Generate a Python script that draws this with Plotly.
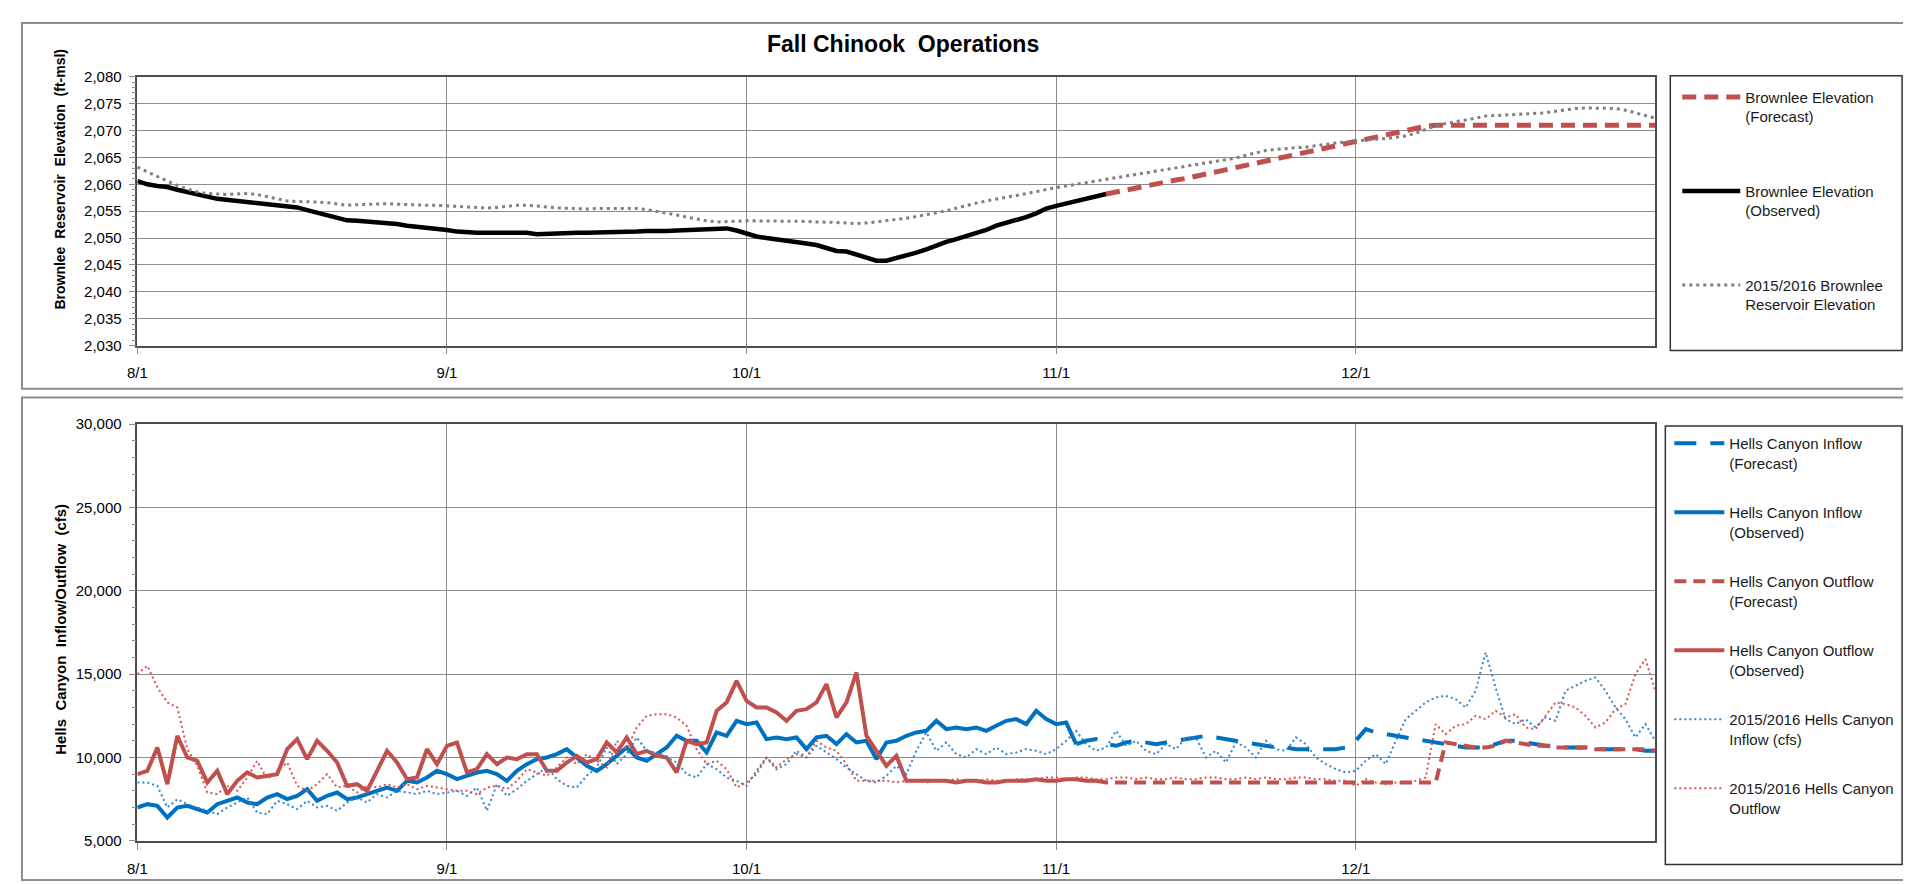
import pandas as pd
import plotly.graph_objects as go

# ---------------- data ----------------
START = "2016-08-01"
N_DAYS = 153
ELEV_FCST_START = "2016-11-06"
INFLOW_FCST_START = "2016-11-03"
OUTFLOW_FCST_START = "2016-11-05"

tick_dates = ["2016-08-01", "2016-09-01", "2016-10-01", "2016-11-01", "2016-12-01"]
tick_labels = ["8/1", "9/1", "10/1", "11/1", "12/1"]

elev_obs = [
    2060.6, 2060.0, 2059.7, 2059.5, 2059.0, 2058.5, 2058.1, 2057.7, 2057.3, 2057.1,
    2057.0, 2056.9, 2056.7, 2056.5, 2056.2, 2056.0, 2055.7, 2055.2, 2054.7, 2054.2,
    2053.7, 2053.3, 2053.2, 2053.1, 2053.0, 2052.9, 2052.6, 2052.3, 2052.1, 2052.1,
    2051.9, 2051.5, 2051.2, 2051.0, 2051.0, 2051.0, 2051.0, 2051.0, 2051.2, 2051.0,
    2050.7, 2050.8, 2051.0, 2051.0, 2051.0, 2051.0, 2051.0, 2051.0, 2051.1, 2051.2,
    2051.2, 2051.3, 2051.2, 2051.3, 2051.4, 2051.5, 2051.6, 2051.8, 2051.9, 2051.8,
    2051.4, 2050.8, 2050.3, 2050.0, 2049.8, 2049.6, 2049.4, 2049.0, 2048.7, 2048.2,
    2047.6, 2047.5, 2047.0, 2046.4, 2045.8, 2045.8, 2046.3, 2046.6, 2047.3, 2047.9,
    2048.7, 2049.3, 2049.8, 2050.3, 2050.9, 2051.5, 2052.3, 2052.8, 2053.2, 2053.9,
    2054.6, 2055.5, 2056.0, 2056.4, 2056.8, 2057.3, 2057.7, 2058.2,
]

elev_fcst = [
    2058.2, 2058.6, 2059.0, 2059.3, 2059.7, 2060.0, 2060.4, 2060.8, 2061.1, 2061.5,
    2061.9, 2062.3, 2062.7, 2063.1, 2063.5, 2063.9, 2064.3, 2064.7, 2065.1, 2065.5,
    2065.9, 2066.3, 2066.7, 2067.1, 2067.5, 2067.9, 2068.3, 2068.8, 2069.3, 2069.7,
    2070.1, 2070.5, 2070.8, 2071.0, 2071.0, 2071.0, 2071.0, 2071.0, 2071.0, 2071.0,
    2071.0, 2071.0, 2071.0, 2071.0, 2071.0, 2071.0, 2071.0, 2071.0, 2071.0, 2071.0,
    2071.0, 2071.0, 2071.0, 2071.0, 2071.0, 2071.0,
]

elev_prev = [
    2063.2, 2062.3, 2061.4, 2060.6, 2059.8, 2059.1, 2058.6, 2058.3, 2058.2, 2058.1,
    2058.2, 2058.3, 2058.1, 2057.7, 2057.2, 2056.9, 2056.8, 2056.8, 2056.7, 2056.6,
    2056.3, 2056.1, 2056.2, 2056.3, 2056.4, 2056.4, 2056.3, 2056.2, 2056.1, 2056.1,
    2056.1, 2056.0, 2055.8, 2055.7, 2055.6, 2055.6, 2055.7, 2055.9, 2056.1, 2056.1,
    2056.0, 2055.8, 2055.6, 2055.5, 2055.4, 2055.4, 2055.5, 2055.5, 2055.6, 2055.6,
    2055.5, 2055.3, 2055.0, 2054.7, 2054.3, 2053.9, 2053.5, 2053.2, 2053.0, 2053.1,
    2053.2, 2053.2, 2053.2, 2053.2, 2053.2, 2053.2, 2053.1, 2053.1, 2053.0, 2053.0,
    2052.9, 2052.8, 2052.7, 2052.8, 2053.0, 2053.2, 2053.5, 2053.7, 2054.0, 2054.3,
    2054.7, 2055.1, 2055.6, 2056.1, 2056.5, 2056.9, 2057.3, 2057.6, 2057.9, 2058.3,
    2058.7, 2059.1, 2059.4, 2059.7, 2060.0, 2060.3, 2060.6, 2060.9, 2061.2, 2061.5,
    2061.8, 2062.1, 2062.4, 2062.7, 2063.0, 2063.3, 2063.6, 2063.9, 2064.2, 2064.5,
    2064.9, 2065.4, 2065.9, 2066.3, 2066.5, 2066.7, 2066.8, 2066.9, 2067.2, 2067.5,
    2067.7, 2067.9, 2068.1, 2068.3, 2068.4, 2068.5, 2068.7, 2069.0, 2069.5, 2070.2,
    2070.9, 2071.3, 2071.6, 2071.9, 2072.3, 2072.7, 2072.8, 2072.9, 2073.0, 2073.1,
    2073.2, 2073.3, 2073.6, 2073.9, 2074.1, 2074.2, 2074.2, 2074.2, 2074.1, 2073.8,
    2073.3, 2072.8, 2072.3,
]

inflow_obs = [
    7000, 7200, 7100, 6400, 7000, 7100, 6900, 6700, 7200, 7400,
    7600, 7300, 7200, 7600, 7800, 7500, 7700, 8100, 7400, 7700,
    7900, 7500, 7600, 7800, 8000, 8200, 8000, 8600, 8500, 8800,
    9200, 9000, 8700, 8900, 9100, 9200, 9000, 8600, 9200, 9600,
    9900, 10000, 10200, 10500, 10000, 9500, 9200, 9600, 10100, 10600,
    10000, 9800, 10200, 10600, 11300, 11000, 11000, 10300, 11500, 11300,
    12200, 12000, 12100, 11100, 11200, 11100, 11200, 10500, 11200, 11300,
    10800, 11400, 10900, 11000, 9900, 10900, 11000, 11300, 11500, 11600,
    12200, 11700, 11800, 11700, 11800, 11600, 11900, 12200, 12300, 12000,
    12800, 12300, 12000, 12100, 10800,
]

inflow_fcst = [
    10800, 11000, 11100, 10800, 10700, 10900, 11000, 10900, 10800, 10900,
    11000, 11100, 11200, 11300, 11200, 11100, 11000, 10900, 10800, 10700,
    10600, 10600, 10500, 10500, 10400, 10500, 10500, 10600, 11000, 11700,
    11500, 11400, 11300, 11200, 11100, 11000, 10900, 10800, 10700, 10600,
    10600, 10600, 10800, 11000, 11000, 10900, 10800, 10700, 10700, 10600,
    10600, 10600, 10500, 10500, 10500, 10500, 10500, 10400, 10400,
]

outflow_obs = [
    9000, 9200, 10600, 8400, 11300, 10000, 9800, 8500, 9200, 7800,
    8600, 9100, 8800, 8900, 9000, 10500, 11100, 9900, 11000, 10400,
    9700, 8300, 8400, 8000, 9200, 10400, 9700, 8700, 8800, 10500,
    9600, 10700, 10900, 9100, 9300, 10200, 9600, 10000, 9900, 10200,
    10200, 9200, 9200, 9700, 10100, 9700, 9900, 10900, 10300, 11200,
    10200, 10400, 10100, 10000, 9100, 11000, 10800, 10900, 12800, 13300,
    14600, 13400, 13000, 13000, 12700, 12200, 12800, 12900, 13300, 14400,
    12400, 13300, 15100, 11300, 10400, 9500, 10100, 8600, 8600, 8600,
    8600, 8600, 8500, 8600, 8600, 8500, 8500, 8600, 8600, 8600,
    8700, 8600, 8600, 8700, 8700, 8600, 8600,
]

outflow_fcst = [
    8600, 8500, 8500, 8500, 8500, 8500, 8500, 8500, 8500, 8500,
    8500, 8500, 8500, 8500, 8500, 8500, 8500, 8500, 8500, 8500,
    8500, 8500, 8500, 8500, 8500, 8500, 8500, 8500, 8500, 8500,
    8500, 8500, 8500, 8500, 8500,
    10900, 10800, 10700, 10600, 10600, 10700, 11000, 10900, 10800, 10700,
    10700, 10600, 10600, 10600, 10600, 10500, 10500, 10500, 10500, 10500,
    10500, 10400,
]

prev_inflow = [
    8500, 8500, 8300, 7000, 7500, 7200, 7000, 6800, 6600, 7000,
    7300, 7600, 6700, 6600, 7400, 7200, 6900, 7400, 7000, 7100,
    6800, 7300, 7600, 7300, 7800, 7600, 8000, 7900, 7800, 8000,
    7800, 7900, 8000, 7700, 8200, 6800, 8400, 7700, 8100, 8600,
    9000, 9400, 8700, 8300, 8200, 8900, 9400, 10600, 9600, 10200,
    11200, 10400, 10300, 10000, 9700, 9000, 8800, 9600, 9300, 8800,
    8600, 8300, 9200, 10000, 9300, 9600, 10400, 10000, 10700, 10300,
    9900, 9400, 9000, 8600, 8500, 8900, 9500, 9000, 10400, 11500,
    10400, 10900, 10200, 10000, 10500, 10200, 10600, 10200, 10300, 10500,
    10400, 10200, 10500, 11000, 11600, 10800, 10400, 10600, 11600, 10700,
    11000, 10400, 10200, 10800, 10500, 11200, 11200, 10000, 10400, 9700,
    10900, 10600, 10000, 11000, 10500, 10400, 11200, 10800, 10000, 9600,
    9300, 9100, 9200, 9800, 10200, 9600, 11000, 12300, 12800, 13300,
    13600, 13700, 13500, 13000, 14000, 16300, 14200, 12300, 12000, 12300,
    11800, 12400, 12200, 14000, 14300, 14600, 14800, 14000, 13000, 12300,
    11200, 12000, 11000,
]

prev_outflow = [
    15000, 15500, 14200, 13300, 13000, 10500, 9500, 7900, 7800, 8300,
    8000, 8800, 9800, 8700, 9200, 9700, 8300, 8000, 8400, 9000,
    8200, 8300, 7900, 8300, 8200, 8400, 8200, 8400, 8100, 8300,
    8200, 8100, 8000, 8000, 7800, 8200, 8300, 8100, 8600, 9300,
    9100, 8900, 9400, 10000, 9600, 10200, 9800, 9400, 11000, 10500,
    11800, 12500, 12600, 12600, 12400, 11900, 10500, 9600, 9800, 9300,
    8200, 8500, 9000, 10000, 9400, 9900, 10200, 10000, 11000, 10600,
    10400, 9600, 8600, 8600, 8600, 8600, 8500, 8600, 8600, 8500,
    8600, 8600, 8700, 8600, 8600, 8700, 8600, 8600, 8700, 8700,
    8700, 8800, 8800, 8700, 8800, 8800, 8700, 8700, 8800, 8800,
    8700, 8800, 8700, 8700, 8800, 8700, 8700, 8800, 8800, 8700,
    8700, 8800, 8700, 8800, 8700, 8700, 8800, 8800, 8700, 8700,
    8600, 8600, 8300, 8700, 8500, 8400, 8500, 8500, 8600, 8800,
    12000, 11400, 11900, 12000, 12500, 12300, 12800, 12400, 12600, 11800,
    11700, 12500, 13300, 13200, 13000, 12500, 11800, 12100, 12900, 13200,
    15000, 15900, 14000,
]

assert len(elev_prev) == N_DAYS and len(prev_inflow) == N_DAYS and len(prev_outflow) == N_DAYS

dates = pd.date_range(START, periods=N_DAYS, freq="D")
d_elev_obs = dates[:len(elev_obs)]
d_elev_fcst = pd.date_range(ELEV_FCST_START, periods=len(elev_fcst), freq="D")
d_in_obs = dates[:len(inflow_obs)]
d_in_fcst = pd.date_range(INFLOW_FCST_START, periods=len(inflow_fcst), freq="D")
d_out_obs = dates[:len(outflow_obs)]
d_out_fcst = pd.date_range(OUTFLOW_FCST_START, periods=len(outflow_fcst), freq="D")

# ---------------- styling ----------------
W, H = 1911, 884
def px(x):
    return x / W
def py(y):
    return 1 - y / H

FONT = "Liberation Sans Narrow, Liberation Sans, Arial, sans-serif"
TICK_FONT = "Liberation Sans, Arial, sans-serif"
BOLD_FONT = "Liberation Sans, Arial, sans-serif"
RED = "#C0504D"
BLUE = "#0070C0"
GRID = "#8C8C8C"
AXLINE = "#4D4D4D"

fig = go.Figure()

# top chart traces
fig.add_trace(go.Scatter(x=d_elev_fcst, y=elev_fcst, mode="lines",
                         name="Brownlee Elevation<br>(Forecast)",
                         line=dict(color=RED, width=5, dash="14px,8px"),
                         legend="legend", legendgroup="a1", xaxis="x", yaxis="y"))
fig.add_trace(go.Scatter(x=d_elev_obs, y=elev_obs, mode="lines",
                         name="Brownlee Elevation<br>(Observed)",
                         line=dict(color="#000000", width=4.5),
                         legend="legend", legendgroup="a2", xaxis="x", yaxis="y"))
fig.add_trace(go.Scatter(x=dates, y=elev_prev, mode="lines",
                         name="2015/2016 Brownlee<br>Reservoir Elevation",
                         line=dict(color="#7F7F7F", width=3, dash="3px,4px"),
                         legend="legend", legendgroup="a3", xaxis="x", yaxis="y"))

# bottom chart traces
fig.add_trace(go.Scatter(x=d_in_fcst, y=inflow_fcst, mode="lines",
                         name="Hells Canyon Inflow<br>(Forecast)",
                         line=dict(color=BLUE, width=4, dash="22px,14px"),
                         legend="legend2", legendgroup="b1", xaxis="x2", yaxis="y2"))
fig.add_trace(go.Scatter(x=d_in_obs, y=inflow_obs, mode="lines",
                         name="Hells Canyon Inflow<br>(Observed)",
                         line=dict(color=BLUE, width=4),
                         legend="legend2", legendgroup="b2", xaxis="x2", yaxis="y2"))
fig.add_trace(go.Scatter(x=d_out_fcst, y=outflow_fcst, mode="lines",
                         name="Hells Canyon Outflow<br>(Forecast)",
                         line=dict(color=RED, width=4, dash="12px,7px"),
                         legend="legend2", legendgroup="b3", xaxis="x2", yaxis="y2"))
fig.add_trace(go.Scatter(x=d_out_obs, y=outflow_obs, mode="lines",
                         name="Hells Canyon Outflow<br>(Observed)",
                         line=dict(color=RED, width=4),
                         legend="legend2", legendgroup="b4", xaxis="x2", yaxis="y2"))
fig.add_trace(go.Scatter(x=dates, y=prev_inflow, mode="lines",
                         name="2015/2016 Hells Canyon<br>Inflow (cfs)",
                         line=dict(color="#2E86D4", width=2, dash="2px,3px"),
                         legend="legend2", legendgroup="b5", xaxis="x2", yaxis="y2"))
fig.add_trace(go.Scatter(x=dates, y=prev_outflow, mode="lines",
                         name="2015/2016 Hells Canyon<br>Outflow",
                         line=dict(color="#D9534F", width=2, dash="2px,3px"),
                         legend="legend2", legendgroup="b6", xaxis="x2", yaxis="y2"))

xdom = [px(120), px(1646)]
xrange_ = [START, "2016-12-31"]

def xaxis_cfg(anchor):
    return dict(domain=xdom, anchor=anchor, type="date", range=xrange_,
                tickvals=tick_dates, ticktext=tick_labels,
                showgrid=True, gridcolor=GRID, gridwidth=1,
                ticks="outside", ticklen=7, tickcolor=GRID,
                showline=True, linecolor=AXLINE, linewidth=1.5, mirror=True,
                tickfont=dict(family=TICK_FONT, size=15, color="#000"),
                ticklabelstandoff=6, zeroline=False)

def yaxis_cfg(anchor, dom, rng, dtick, minor):
    return dict(domain=dom, anchor=anchor, range=rng, dtick=dtick, tick0=rng[0],
                tickformat=",d", showgrid=True, gridcolor=GRID, gridwidth=1,
                ticks="outside", ticklen=7, tickcolor=GRID,
                minor=dict(dtick=minor, ticks="outside", ticklen=4, tickcolor=GRID,
                           showgrid=False),
                showline=True, linecolor=AXLINE, linewidth=1.5, mirror=True,
                tickfont=dict(family=TICK_FONT, size=15, color="#000"),
                ticklabelstandoff=4, zeroline=False)

legend_common = dict(xanchor="left", yanchor="top", bgcolor="rgba(0,0,0,0)",
                     borderwidth=0, valign="top",
                     font=dict(family=FONT, size=15, color="#1a1a1a"),
                     itemclick=False, itemdoubleclick=False)

fig.update_layout(
    width=W, height=H,
    margin=dict(l=0, r=0, t=0, b=0),
    paper_bgcolor="white", plot_bgcolor="white",
    xaxis=xaxis_cfg("y"),
    yaxis=yaxis_cfg("x", [py(335), py(61)], [2030, 2080], 5, 1),
    xaxis2=xaxis_cfg("y2"),
    yaxis2=yaxis_cfg("x2", [py(840), py(415)], [5000, 30000], 5000, 1000),
    legend=dict(x=px(1668), y=py(65), tracegroupgap=52, itemwidth=58, **legend_common),
    legend2=dict(x=px(1660), y=py(418), tracegroupgap=27, itemwidth=50, **legend_common),
    showlegend=True,
)

shape_line = dict(color="#8C8C8C", width=2)
legend_line = dict(color="#333333", width=1.5)
fig.update_layout(shapes=[
    dict(type="rect", xref="paper", yref="paper", x0=px(4), x1=px(1907),
         y0=py(379), y1=py(6), line=shape_line, layer="below"),
    dict(type="rect", xref="paper", yref="paper", x0=px(4), x1=px(1907),
         y0=py(880), y1=py(388), line=shape_line, layer="below"),
    dict(type="rect", xref="paper", yref="paper", x0=px(1661), x1=px(1894),
         y0=py(340), y1=py(60), line=legend_line, layer="below"),
    dict(type="rect", xref="paper", yref="paper", x0=px(1656), x1=px(1894),
         y0=py(864), y1=py(417), line=legend_line, layer="below"),
])

fig.update_layout(annotations=[
    dict(text="<b>Fall Chinook  Operations</b>", xref="paper", yref="paper",
         x=px(890), y=py(28), xanchor="center", yanchor="middle", showarrow=False,
         font=dict(family=FONT, size=23, color="#000")),
    dict(text="<b>Brownlee  Reservoir  Elevation  (ft-msl)</b>", xref="paper", yref="paper",
         x=px(42), y=py(165), xanchor="center", yanchor="middle", showarrow=False,
         textangle=-90, font=dict(family=BOLD_FONT, size=14, color="#000")),
    dict(text="<b>Hells  Canyon  Inflow/Outflow  (cfs)</b>", xref="paper", yref="paper",
         x=px(42), y=py(624), xanchor="center", yanchor="middle", showarrow=False,
         textangle=-90, font=dict(family=BOLD_FONT, size=15, color="#000")),
])

fig.write_html("out.html")
